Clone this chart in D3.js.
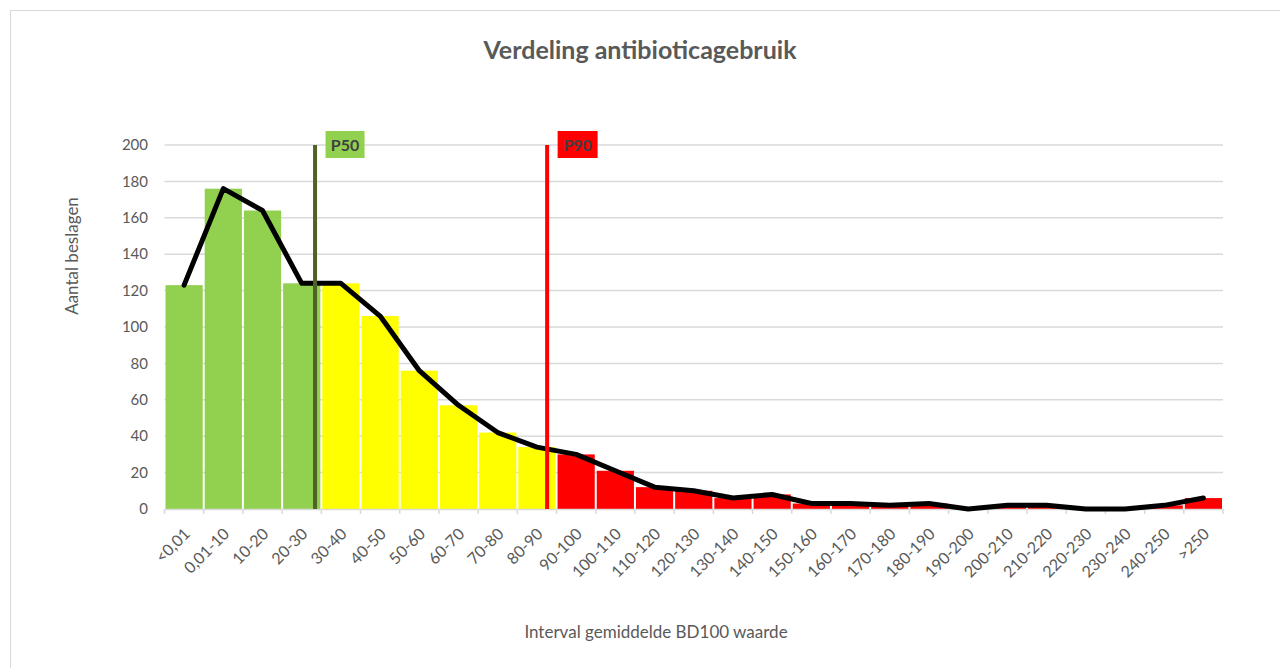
<!DOCTYPE html>
<html><head><meta charset="utf-8">
<script src="https://cdn.jsdelivr.net/npm/d3@7"></script>
<style>body{margin:0;background:#fff;} text{font-family:Lato,"Open Sans",sans-serif;}</style>
</head><body>
<svg id="c" width="1280" height="668"></svg>
<script>
const categories = ["<0,01","0,01-10","10-20","20-30","30-40","40-50","50-60","60-70","70-80","80-90","90-100","100-110","110-120","120-130","130-140","140-150","150-160","160-170","170-180","180-190","190-200","200-210","210-220","220-230","230-240","240-250",">250"];
const counts = [123,176,164,124,124,106,76,57,42,34,30,21,12,10,6,8,3,3,2,3,0,2,2,0,0,2,6];
const zones = ["g","g","g","g","y","y","y","y","y","y","r","r","r","r","r","r","r","r","r","r","r","r","r","r","r","r","r"];
const yTicks = [0,20,40,60,80,100,120,140,160,180,200];
const percentiles = [{label:"P50", value:28.4, line:"#4F6228", box:"#92D050"},{label:"P90", value:87.6, line:"#FF0000", box:"#FF0000"}];
const zoneColor = {g:"#92D050", y:"#FFFF00", r:"#FF0000"};

const svg = d3.select("#c");
const L=164.5, R=1223, T=145, B=509;
svg.append("rect").attr("x",10.5).attr("y",10.5).attr("width",1300).attr("height",700).attr("fill","#fff").attr("stroke","#D9D9D9");

const xb = d3.scaleBand().domain(categories).range([L,R]);
const y = d3.scaleLinear().domain([0,200]).range([B,T]);
// map BD100 value to pixel: category index 1 covers 0-10
const xv = d3.scaleLinear().domain([0,10]).range([L+xb.step(), L+2*xb.step()]);

svg.append("g").selectAll("line").data(yTicks.filter(d=>d>0)).join("line")
  .attr("x1",L).attr("x2",R).attr("y1",d=>y(d)).attr("y2",d=>y(d)).attr("stroke","#D9D9D9").attr("stroke-width",1.5);

svg.append("g").selectAll("text").data(yTicks).join("text")
  .attr("x",148).attr("y",d=>y(d)).attr("dy","0.35em").attr("text-anchor","end")
  .attr("fill","#595959").attr("font-size",15).text(d=>d);

svg.append("g").selectAll("rect").data(categories).join("rect")
  .attr("x",d=>xb(d)+1).attr("width",xb.step()-2)
  .attr("y",(d,i)=>y(counts[i])).attr("height",(d,i)=>B-y(counts[i]))
  .attr("fill",(d,i)=>zoneColor[zones[i]]);

// axis
const ax = svg.append("g");
ax.append("line").attr("x1",L).attr("x2",R).attr("y1",B+0.5).attr("y2",B+0.5).attr("stroke","#D9D9D9").attr("stroke-width",1.5);
ax.selectAll("line.t").data(d3.range(categories.length+1)).join("line").attr("class","t")
  .attr("x1",i=>L+i*xb.step()).attr("x2",i=>L+i*xb.step()).attr("y1",B).attr("y2",B+5).attr("stroke","#D9D9D9").attr("stroke-width",1.5);
ax.selectAll("text").data(categories).join("text")
  .attr("transform",d=>`translate(${xb(d)+xb.bandwidth()/2+3},${B+22}) rotate(-45)`)
  .attr("text-anchor","end").attr("dy","0.35em").attr("fill","#595959").attr("font-size",16).text(d=>d);

// line
const line = d3.line().x((d,i)=>xb(categories[i])+xb.bandwidth()/2).y(d=>y(d));
svg.append("path").datum(counts).attr("d",line).attr("fill","none").attr("stroke","#000").attr("stroke-width",5).attr("stroke-linejoin","round").attr("stroke-linecap","round");

// percentile lines
percentiles.forEach(p=>{
  const px = xv(p.value);
  const w = p.label==="P50"?39:40;
  svg.append("line").attr("x1",px).attr("x2",px).attr("y1",y(200)).attr("y2",B).attr("stroke",p.line).attr("stroke-width",4);
  svg.append("rect").attr("x",px+10.5).attr("y",131).attr("width",w).attr("height",27).attr("fill",p.box);
  svg.append("text").attr("x",px+10.5+w/2).attr("y",145).attr("dy","0.35em").attr("text-anchor","middle").attr("font-weight","bold").attr("font-size",16).attr("fill","#404040").text(p.label);
});

svg.append("text").attr("x",640).attr("y",50).attr("dy","0.35em").attr("text-anchor","middle").attr("font-size",25).attr("font-weight","bold").attr("fill","#595959").text("Verdeling antibioticagebruik");
svg.append("text").attr("transform","translate(72,256) rotate(-90)").attr("text-anchor","middle").attr("dy","0.35em").attr("font-size",17).attr("fill","#595959").text("Aantal beslagen");
svg.append("text").attr("x",656).attr("y",632).attr("dy","0.35em").attr("text-anchor","middle").attr("font-size",17).attr("fill","#595959").text("Interval gemiddelde BD100 waarde");
</script>
</body></html>
